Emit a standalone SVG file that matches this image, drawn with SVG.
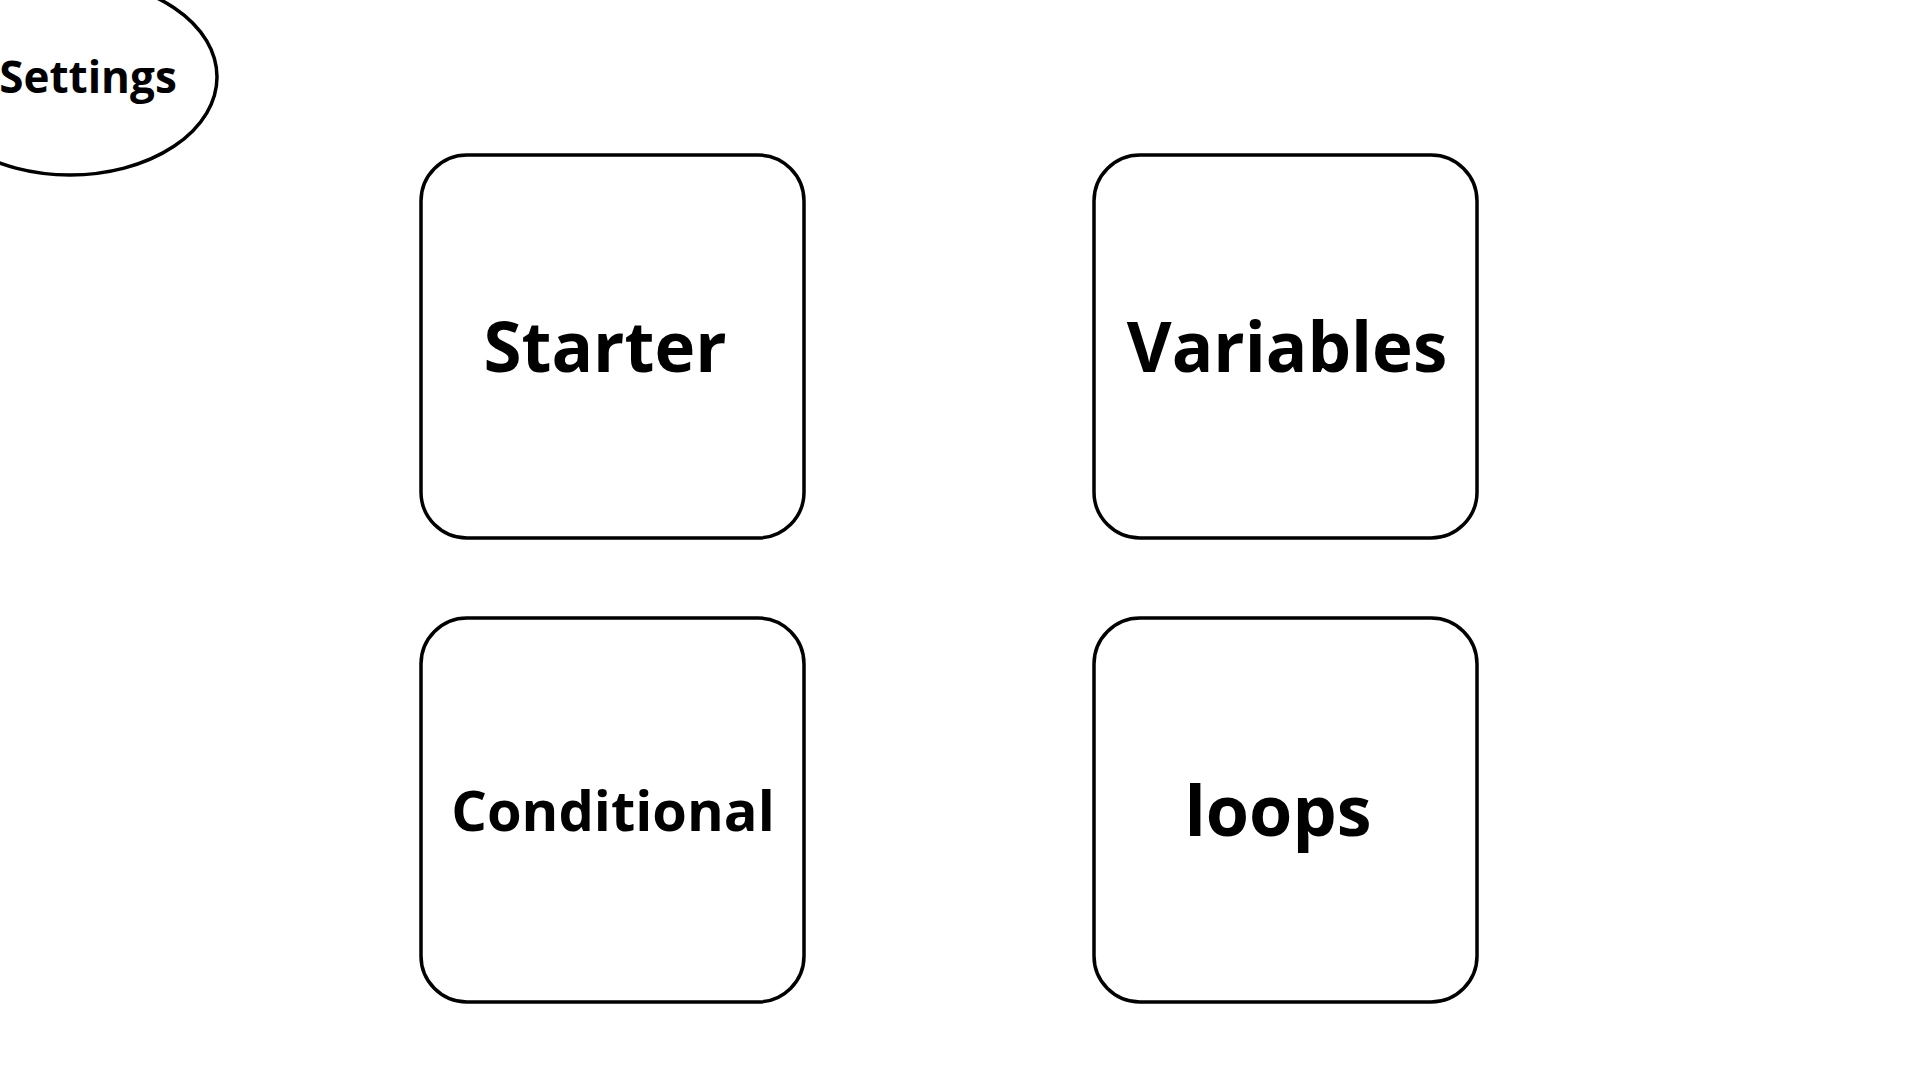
<svg xmlns="http://www.w3.org/2000/svg" width="1920" height="1080" viewBox="0 0 1920 1080">
<style>
.box{fill:#fff;stroke:#000;stroke-width:3.5}
.lbl{font-family:"Open Sans","Noto Sans","Liberation Sans",sans-serif;font-weight:700;fill:#000;text-anchor:middle}
</style>
<rect width="1920" height="1080" fill="#fff"/>
<g id="connectors"></g>
<g id="settings">
<ellipse class="box" cx="70" cy="77" rx="147" ry="98"/>
<text class="lbl" x="88" y="93" font-size="44">Settings</text>
</g>
<g id="starter">
<rect class="box" x="421" y="155" width="383" height="383" rx="46"/>
<text class="lbl" x="605" y="372" font-size="69">Starter</text>
</g>
<g id="variables">
<rect class="box" x="1094" y="155" width="383" height="383" rx="46"/>
<text class="lbl" x="1287" y="372" font-size="69">Variables</text>
</g>
<g id="conditional">
<rect class="box" x="421" y="618" width="383" height="384" rx="46"/>
<text class="lbl" x="613" y="831" font-size="56">Conditional</text>
</g>
<g id="loops">
<rect class="box" x="1094" y="618" width="383" height="384" rx="46"/>
<text class="lbl" x="1278" y="836" font-size="70">loops</text>
</g>
</svg>
